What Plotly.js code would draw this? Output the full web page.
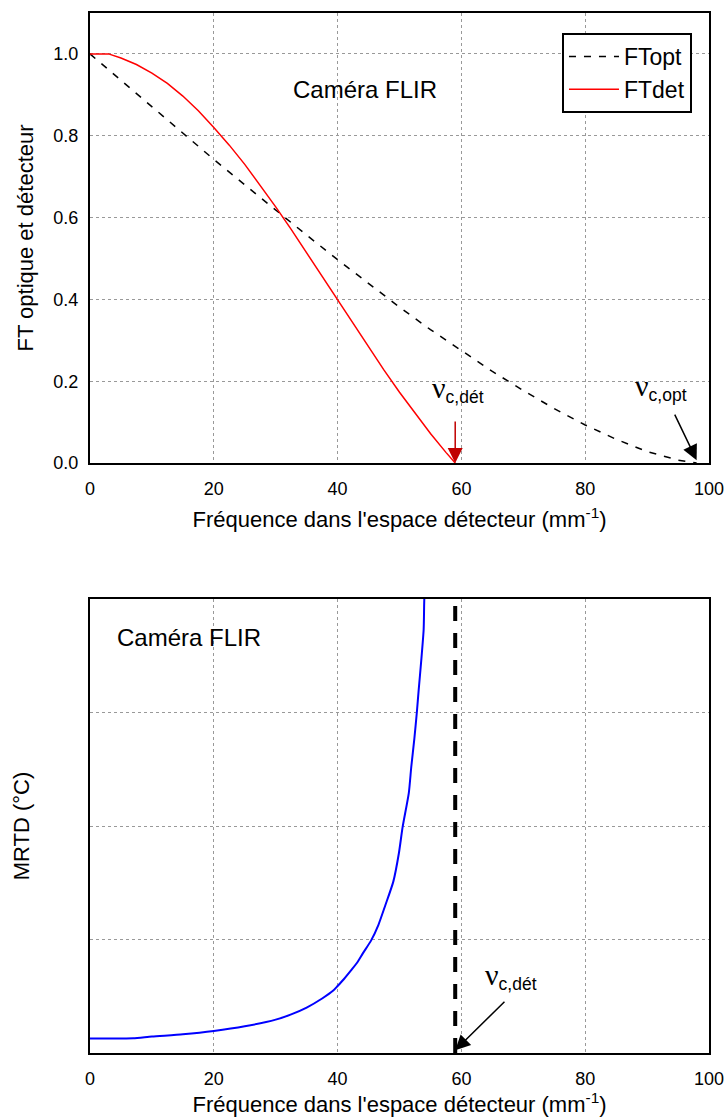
<!DOCTYPE html>
<html>
<head>
<meta charset="utf-8">
<script src="https://cdn.plot.ly/plotly-3.0.1.min.js"></script>
<style>html,body{margin:0;padding:0;background:#fff;}#chart{width:725px;height:1117px;}</style>
</head>
<body>
<div id="chart"></div>
<script>
// ---- Data ----
const freqOpt = [0,5,10,15,20,25,30,35,40,45,50,55,60,65,70,75,80,85,90,95,98];
const ftOpt   = [1.0,0.935,0.87,0.805,0.742,0.68,0.618,0.557,0.497,0.438,0.381,0.326,0.274,0.224,0.177,0.133,0.093,0.058,0.028,0.007,0.0];
const freqDet = [0,2,3,5,7.5,10,12.5,15,17.5,20,22.5,25,27.5,30,32.5,35,37.5,40,42.5,45,47.5,50,52.5,55,57.5,59];
const ftDet   = [1.0,1.0,1.0,0.99,0.974,0.953,0.928,0.897,0.861,0.82,0.777,0.73,0.679,0.626,0.571,0.514,0.456,0.398,0.34,0.283,0.227,0.173,0.121,0.072,0.026,0.0];
const freqMrtd = [0,5,7,10,15,20,25,30,32.5,35,37.5,39.3,40,41,42.2,43.2,44.1,45.4,46.6,47.7,49.0,49.9,50.5,51.5,51.9,52.4,52.8,53.1,53.5,53.9,54.0,54.3];
const mrtd     = [0.127,0.128,0.13,0.145,0.165,0.194,0.235,0.294,0.34,0.40,0.48,0.55,0.59,0.65,0.73,0.80,0.88,0.99,1.13,1.30,1.51,1.76,1.99,2.29,2.52,2.77,3.0,3.2,3.45,3.73,3.99,4.4];
const cutoffDet = 59;
const cutoffOpt = 98;
const mrtdSpan = [0, 4];
const xTicks = [0,20,40,60,80,100];
const ftTicks = [0,0.2,0.4,0.6,0.8,1.0];
const ftTickLabels = ['0.0','0.2','0.4','0.6','0.8','1.0'];
const mrtdTicks = [1,2,3];

const FONT = 'Liberation Sans, Arial, sans-serif';
const NU = '<span style="font-family:\'Liberation Serif\',\'Times New Roman\',serif;font-size:30px">ν</span>';

const traces = [
  {x: freqOpt, y: ftOpt, type: 'scatter', mode: 'lines', name: 'FTopt',
   line: {color: '#000', width: 1.5, dash: '7px,8px'}, xaxis: 'x', yaxis: 'y'},
  {x: freqDet, y: ftDet, type: 'scatter', mode: 'lines', name: 'FTdet',
   line: {color: '#ff0000', width: 1.5}, xaxis: 'x', yaxis: 'y'},
  {x: freqMrtd, y: mrtd, type: 'scatter', mode: 'lines', name: 'MRTD', showlegend: false,
   line: {color: '#0000ff', width: 2, shape: 'spline', smoothing: 0.6}, xaxis: 'x2', yaxis: 'y2'},
  {x: [cutoffDet, cutoffDet], y: mrtdSpan, type: 'scatter', mode: 'lines', showlegend: false,
   line: {color: '#000', width: 4, dash: '15px,12px'}, xaxis: 'x2', yaxis: 'y2'}
];

const axisCommon = {
  showline: true, linecolor: '#000', linewidth: 2, mirror: true,
  showgrid: true, gridcolor: '#999', griddash: 'dot', gridwidth: 1,
  zeroline: false, ticks: '',
  tickfont: {family: FONT, size: 18, color: '#000'}
};
const xTitle = {text: "Fréquence dans l'espace détecteur (mm<sup>-1</sup>)", font: {family: FONT, size: 22, color: '#000'}, standoff: 14};

const layout = {
  width: 725, height: 1117,
  margin: {l: 90, r: 16, t: 13, b: 64},
  paper_bgcolor: '#fff', plot_bgcolor: '#fff',
  font: {family: FONT, color: '#000'},
  showlegend: true,
  legend: {x: 0.9725, y: 0.9808, xanchor: 'right', yanchor: 'top',
           bgcolor: '#fff', bordercolor: '#000', borderwidth: 2,
           itemwidth: 50, tracegroupgap: 0,
           font: {family: FONT, size: 23, color: '#000'}},
  xaxis: Object.assign({}, axisCommon, {domain: [0,1], anchor: 'y', range: [0,100],
           tickvals: xTicks, ticklabelstandoff: 8, title: xTitle}),
  yaxis: Object.assign({}, axisCommon, {domain: [0.5673, 1], anchor: 'x', range: [0,1.1],
           tickvals: ftTicks, ticktext: ftTickLabels, ticklabelstandoff: 6,
           title: {text: 'FT optique et détecteur', font: {family: FONT, size: 22, color: '#000'}, standoff: 14}}),
  xaxis2: Object.assign({}, axisCommon, {domain: [0,1], anchor: 'y2', range: [0,100],
           tickvals: xTicks, ticklabelstandoff: 8, title: xTitle}),
  yaxis2: Object.assign({}, axisCommon, {domain: [0, 0.4365], anchor: 'x2', range: mrtdSpan,
           tickvals: mrtdTicks, showticklabels: false,
           title: {text: 'MRTD (°C)', font: {family: FONT, size: 22, color: '#000'}, standoff: 52}}),
  annotations: [
    {xref: 'x', yref: 'y', x: 44.4, y: 0.912, text: 'Caméra FLIR', showarrow: false,
     font: {family: FONT, size: 24, color: '#000'}, xanchor: 'center', yanchor: 'middle'},
    {xref: 'x2', yref: 'y2', x: 16, y: 3.66, text: 'Caméra FLIR', showarrow: false,
     font: {family: FONT, size: 24, color: '#000'}, xanchor: 'center', yanchor: 'middle'},
    // red arrow to detector cutoff (top)
    {xref: 'x', yref: 'y', x: cutoffDet, y: 0, axref: 'x', ayref: 'y', ax: cutoffDet, ay: 0.105,
     text: '', showarrow: true, arrowhead: 2, arrowsize: 2, arrowwidth: 1.5, arrowcolor: '#c00000', standoff: 0},
    {xref: 'x', yref: 'y', x: 59.5, y: 0.18, text: NU + '<sub>c,dét</sub>', showarrow: false,
     font: {family: FONT, size: 25, color: '#000'}, xanchor: 'center', yanchor: 'middle'},
    // black arrow to optical cutoff (top)
    {xref: 'x', yref: 'y', x: cutoffOpt, y: 0.007, axref: 'x', ayref: 'y', ax: 94.35, ay: 0.122,
     text: '', showarrow: true, arrowhead: 2, arrowsize: 2, arrowwidth: 1.5, arrowcolor: '#000', standoff: 0},
    {xref: 'x', yref: 'y', x: 92.3, y: 0.185, text: NU + '<sub>c,opt</sub>', showarrow: false,
     font: {family: FONT, size: 25, color: '#000'}, xanchor: 'center', yanchor: 'middle'},
    // black arrow to detector cutoff (bottom)
    {xref: 'x2', yref: 'y2', x: cutoffDet, y: 0.024, axref: 'x2', ayref: 'y2', ax: 67.2, ay: 0.465,
     text: '', showarrow: true, arrowhead: 2, arrowsize: 2, arrowwidth: 1.5, arrowcolor: '#000', standoff: 0},
    {xref: 'x2', yref: 'y2', x: 68, y: 0.68, text: NU + '<sub>c,dét</sub>', showarrow: false,
     font: {family: FONT, size: 25, color: '#000'}, xanchor: 'center', yanchor: 'middle'}
  ]
};

Plotly.newPlot('chart', traces, layout, {displayModeBar: false, staticPlot: true});
</script>
</body>
</html>
